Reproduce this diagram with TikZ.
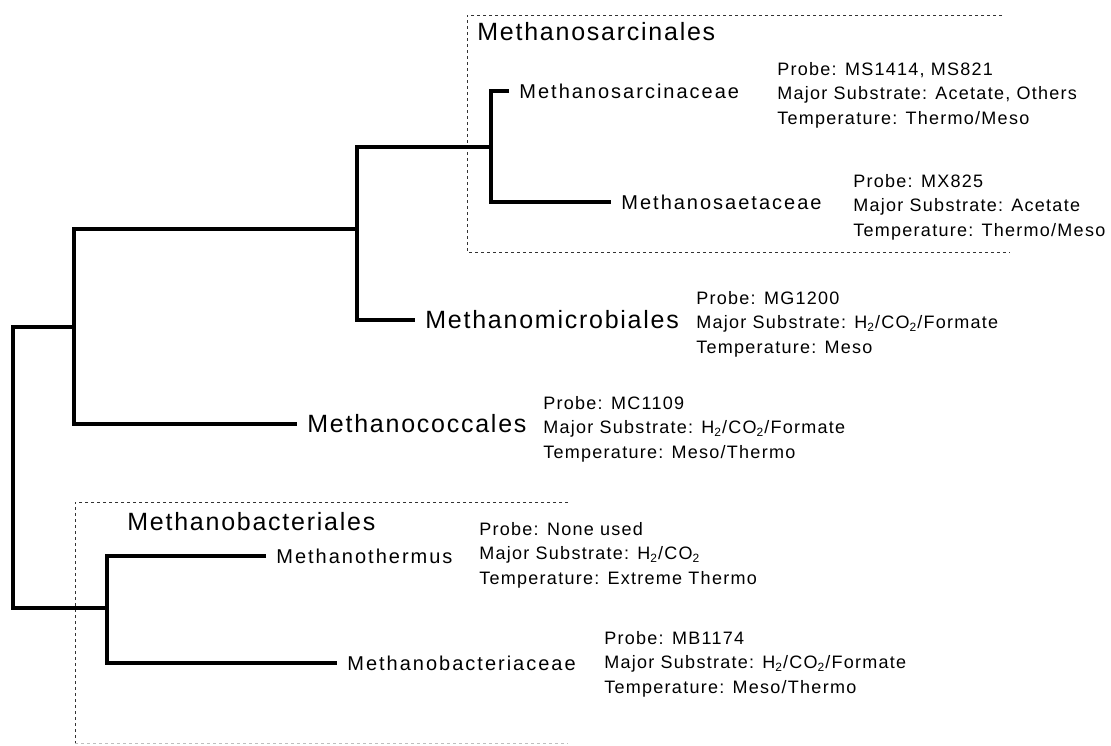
\documentclass[tikz,border=0pt]{standalone}
\usepackage{fontspec}
\setmainfont{Liberation Sans}
\newfontfamily\trkinfo[LetterSpace=7]{Liberation Sans}
\newfontfamily\trkleaf[LetterSpace=10]{Liberation Sans}
\newfontfamily\trkbig[LetterSpace=7]{Liberation Sans}
\begin{document}
\begin{tikzpicture}[x=0.5pt,y=-0.5pt,
  tree/.style={line width=2pt},
  box/.style={line width=0.5pt, dash pattern=on 1.5pt off 1.5pt, black!80},
  leaf/.style={anchor=west, inner xsep=5pt, inner ysep=0pt, font=\trkleaf\fontsize{10pt}{12pt}\selectfont},
  order/.style={anchor=west, inner xsep=5pt, inner ysep=0pt, font=\trkbig\fontsize{12.5pt}{14pt}\selectfont},
  grouptitle/.style={anchor=base west, inner sep=0pt, font=\trkbig\fontsize{12.5pt}{14pt}\selectfont},
  info/.style={anchor=north west, inner sep=0pt, align=left, font=\trkinfo\fontsize{9pt}{12.2pt}\selectfont}]
\path[use as bounding box, fill=white] (0,0) rectangle (1111,745);
% group boxes
\draw[box] (1002,15) -- (467,15) -- (467,252) -- (1010,252);
\draw[box] (568,502) -- (75,502) -- (75,745);
\draw[box, black!25] (75,743) -- (568,743);
% titles
\node[grouptitle] (tsarc) at (477,40) {Methanosarcinales};
\node[grouptitle] (tbact) at (127,530) {Methanobacteriales};
% internal nodes
\coordinate (R) at (13,467);
\coordinate (A) at (74,327);
\coordinate (B) at (357,229);
\coordinate (C) at (491,147);
\coordinate (D) at (107,608);
% leaves
\node[leaf] (sarc) at (509,91) {Methanosarcinaceae};
\node[leaf] (saet) at (611,202) {Methanosaetaceae};
\node[order] (micro) at (415,320) {Methanomicrobiales};
\node[order] (cocc) at (297,424) {Methanococcales};
\node[leaf] (therm) at (266,556) {Methanothermus};
\node[leaf] (bact) at (337,663) {Methanobacteriaceae};
% branches
\draw[tree] (sarc.west) -| (C) |- (saet.west);
\draw[tree] (C) -| (B) |- (micro.west);
\draw[tree] (B) -| (A) |- (cocc.west);
\draw[tree] (A) -| (R) |- (D);
\draw[tree] (therm.west) -| (D) |- (bact.west);
% info blocks
\node[info] (i1) at (777,62) {Probe: MS1414, MS821\\Major Substrate: Acetate, Others\\Temperature: Thermo/Meso};
\node[info] (i2) at (853,174) {Probe: MX825\\Major Substrate: Acetate\\Temperature: Thermo/Meso};
\node[info] (i3) at (696,291) {Probe: MG1200\\Major Substrate: H\textsubscript{2}/CO\textsubscript{2}/Formate\\Temperature: Meso};
\node[info] (i4) at (543,396) {Probe: MC1109\\Major Substrate: H\textsubscript{2}/CO\textsubscript{2}/Formate\\Temperature: Meso/Thermo};
\node[info] (i5) at (479,522) {Probe: None used\\Major Substrate: H\textsubscript{2}/CO\textsubscript{2}\\Temperature: Extreme Thermo};
\node[info] (i6) at (604,631) {Probe: MB1174\\Major Substrate: H\textsubscript{2}/CO\textsubscript{2}/Formate\\Temperature: Meso/Thermo};
\end{tikzpicture}
\end{document}
